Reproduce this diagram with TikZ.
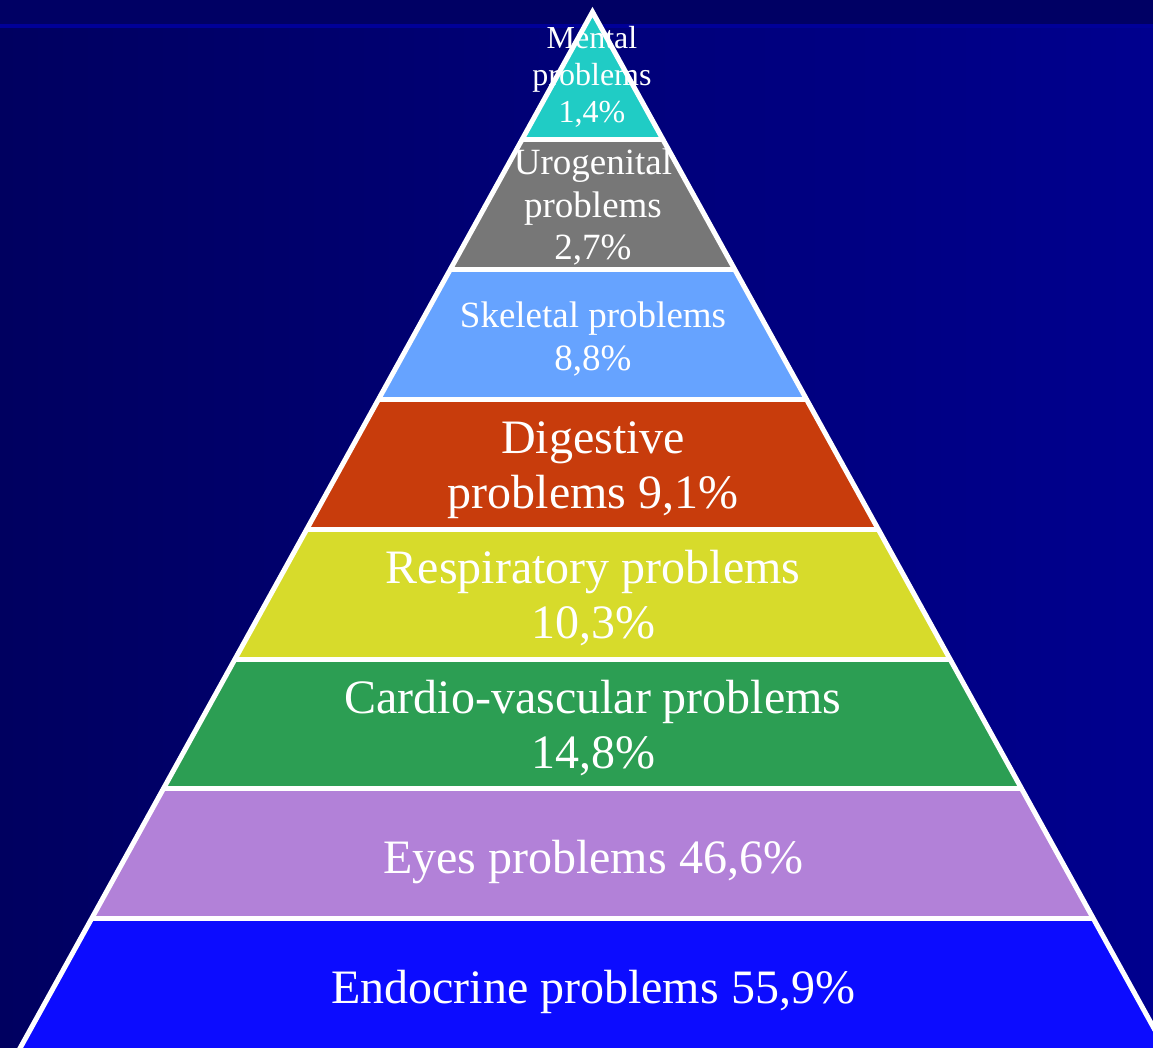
\documentclass[tikz,border=0pt]{standalone}
\usepackage{fontspec}
\setmainfont{Liberation Serif}
\definecolor{bgL}{HTML}{000060}
\definecolor{bgR}{HTML}{00008E}
\definecolor{topstrip}{HTML}{000064}
\definecolor{stripline}{HTML}{000098}
\definecolor{cMental}{HTML}{20CCC5}
\definecolor{cUro}{HTML}{777777}
\definecolor{cSkel}{HTML}{66A3FF}
\definecolor{cDig}{HTML}{C83C0C}
\definecolor{cResp}{HTML}{D7DB2B}
\definecolor{cCard}{HTML}{2C9E53}
\definecolor{cEyes}{HTML}{B281D8}
\definecolor{cEndo}{HTML}{0C0CFF}
\tikzset{
  lbl/.style={text=white, align=center, inner sep=0pt, anchor=base},
  smalltxt/.style={lbl, font=\fontsize{32}{37}\selectfont},
  midtxt/.style={lbl, font=\fontsize{37}{42.5}\selectfont},
  bigtxt/.style={lbl, font=\fontsize{48}{55}\selectfont},
  divider/.style={white, line width=5pt},
  outline/.style={white, line width=5pt, line join=miter}
}
\newcommand\lxx[1]{{592.5-0.553*(#1-13)}}
\newcommand\rxx[1]{{592.5+0.553*(#1-13)}}
\begin{document}
\begin{tikzpicture}[x=1pt,y=-1pt]
\useasboundingbox (0,0) rectangle (1153,1048);
\clip (0,0) rectangle (1153,1048);
\shade[left color=bgL, right color=bgR] (0,0) rectangle (1153,1048);
\fill[topstrip] (0,0) rectangle (1153,24);
\fill[stripline] (0,24) rectangle (1153,28);
% bands
\foreach \ya/\yb/\c in {13/140/cMental, 140/270/cUro, 270/399.5/cSkel, 399.5/529.5/cDig, 529.5/659.5/cResp, 659.5/788.5/cCard, 788.5/918.5/cEyes, 918.5/1052/cEndo}{
  \fill[\c] (\lxx{\ya},\ya) -- (\rxx{\ya},\ya) -- (\rxx{\yb},\yb) -- (\lxx{\yb},\yb) -- cycle;
}
% dividers
\foreach \y in {140,270,399.5,529.5,659.5,788.5,918.5}{
  \draw[divider] (\lxx{\y},\y) -- (\rxx{\y},\y);
}
% outline
\coordinate (apex) at (592.5,12);
\coordinate (bl) at (\lxx{1052},1052);
\coordinate (br) at (\rxx{1052},1052);
\draw[outline] (apex) -- (bl) -- (br) -- cycle;
% labels (anchor base = baseline of last line)
\node[smalltxt] (mental) at (592,123) {Mental\\problems\\1,4\%};
\node[midtxt] (uro) at (593,260) {Urogenital\\problems\\2,7\%};
\node[midtxt] (skel) at (593,370) {Skeletal problems\\8,8\%};
\node[bigtxt] (dig) at (593,508) {Digestive\\problems 9,1\%};
\node[bigtxt] (resp) at (593,638) {Respiratory problems\\10,3\%};
\node[bigtxt] (card) at (593,768) {Cardio-vascular problems\\14,8\%};
\node[bigtxt] (eyes) at (593,873) {Eyes problems 46,6\%};
\node[bigtxt] (endo) at (593,1003) {Endocrine problems 55,9\%};
\end{tikzpicture}
\end{document}
